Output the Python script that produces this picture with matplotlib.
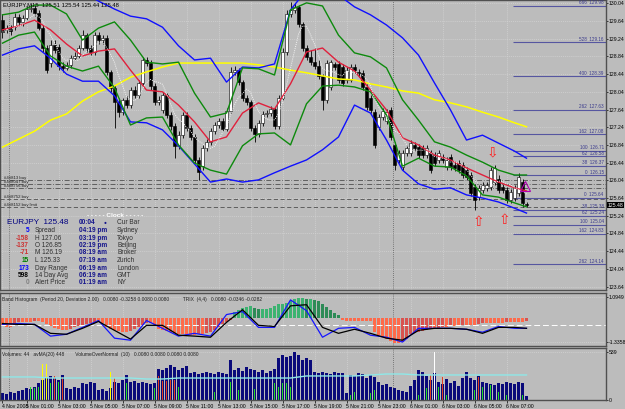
import numpy as np
import pandas as pd
import matplotlib
matplotlib.use('Agg')
import matplotlib.pyplot as plt
import matplotlib.transforms as mtransforms

plt.rcParams['font.family'] = ['Liberation Sans', 'DejaVu Sans']

# EURJPY M15 candles (132 bars)
opens = [129.66, 129.44, 129.48, 129.51, 129.73, 129.62, 129.71, 129.91, 129.93, 129.82,
         129.48, 129.03, 128.69, 129.10, 129.05, 128.62, 128.58, 128.65, 128.80, 128.85,
         129.03, 129.32, 129.03, 128.94, 129.32, 129.21, 129.26, 128.49, 128.13, 127.81,
         127.58, 127.86, 127.74, 128.08, 127.97, 128.24, 128.76, 128.69, 128.17, 127.81,
         127.63, 127.97, 127.52, 127.27, 126.82, 127.06, 127.52, 127.22, 127.02, 126.50,
         126.36, 126.77, 126.91, 127.15, 127.29, 127.38, 127.20, 127.61, 128.49, 128.53,
         128.26, 127.90, 127.81, 127.22, 127.09, 127.34, 127.54, 127.56, 127.65, 127.27,
         127.90, 128.94, 129.80, 129.89, 129.96, 129.57, 129.03, 128.83, 128.71, 128.62,
         128.40, 127.86, 128.15, 128.67, 128.67, 128.60, 128.31, 128.31, 128.60, 128.49,
         128.47, 128.15, 127.90, 127.58, 127.25, 127.47, 127.38, 127.63, 126.84, 126.50,
         126.34, 126.66, 126.66, 126.84, 126.79, 126.77, 126.61, 126.66, 126.61, 126.50,
         126.57, 126.34, 126.57, 126.39, 126.43, 126.39, 126.27, 126.16, 125.89, 125.66,
         125.82, 125.87, 125.89, 126.00, 126.07, 125.89, 125.82, 125.60, 125.64, 125.75,
         126.00, 125.51]
closes = [129.39, 129.48, 129.41, 129.73, 129.62, 129.71, 129.91, 129.93, 129.82, 129.48,
          129.03, 128.53, 129.10, 128.98, 128.62, 128.58, 128.65, 128.80, 128.85, 129.03,
          129.32, 129.03, 128.94, 129.32, 129.21, 129.26, 128.49, 128.13, 127.81, 127.58,
          127.86, 127.74, 128.08, 127.97, 128.24, 128.76, 128.69, 128.17, 127.81, 127.86,
          127.97, 127.52, 127.27, 126.82, 127.06, 127.52, 127.22, 127.02, 126.50, 126.23,
          126.77, 126.91, 127.15, 127.29, 127.38, 127.20, 127.61, 128.49, 128.53, 128.26,
          127.90, 127.81, 127.22, 127.09, 127.34, 127.54, 127.56, 127.65, 127.27, 127.90,
          128.94, 129.80, 129.89, 129.96, 129.57, 129.03, 128.83, 128.71, 128.62, 128.40,
          127.86, 128.69, 128.71, 128.60, 128.31, 128.24, 128.53, 128.60, 128.53, 128.44,
          128.15, 127.70, 127.63, 126.84, 127.47, 127.61, 127.58, 127.02, 126.39, 126.66,
          126.66, 126.77, 126.88, 126.77, 126.61, 126.61, 126.77, 126.27, 126.43, 126.66,
          126.50, 126.50, 126.34, 126.32, 126.27, 126.16, 126.12, 125.75, 125.60, 125.87,
          125.93, 125.93, 126.27, 126.32, 125.82, 125.82, 125.60, 125.78, 125.87, 126.12,
          125.53, 125.48]
highs = [129.80, 129.55, 129.55, 129.82, 129.80, 129.78, 129.98, 130.02, 130.00, 129.89,
         129.55, 129.10, 129.21, 129.21, 129.12, 128.71, 128.71, 128.87, 128.94, 129.10,
         129.44, 129.37, 129.10, 129.39, 129.39, 129.32, 129.32, 128.53, 128.19, 127.90,
         127.90, 127.95, 128.15, 128.17, 128.31, 128.83, 128.83, 128.76, 128.24, 127.95,
         128.04, 128.01, 127.58, 127.34, 127.15, 127.58, 127.58, 127.29, 127.09, 126.57,
         126.84, 126.97, 127.22, 127.36, 127.45, 127.45, 127.67, 128.60, 128.62, 128.58,
         128.31, 127.97, 127.86, 127.29, 127.40, 127.61, 127.63, 127.72, 127.70, 127.97,
         129.03, 129.89, 130.07, 130.05, 130.00, 129.62, 129.10, 128.98, 129.03, 128.76,
         128.44, 128.76, 128.76, 128.71, 128.74, 128.67, 128.60, 128.67, 128.67, 128.56,
         128.53, 128.22, 127.97, 127.65, 127.54, 127.67, 127.65, 127.70, 126.91, 126.73,
         126.73, 126.84, 126.95, 126.91, 126.86, 126.84, 126.84, 126.73, 126.68, 126.73,
         126.64, 126.57, 126.64, 126.45, 126.50, 126.45, 126.34, 126.23, 125.96, 125.93,
         126.00, 126.00, 126.34, 126.39, 126.16, 125.96, 125.89, 125.84, 125.93, 126.21,
         126.07, 125.54]
lows = [129.26, 129.37, 129.32, 129.44, 129.55, 129.53, 129.66, 129.84, 129.75, 129.44,
        128.94, 128.47, 128.60, 128.92, 128.53, 128.49, 128.53, 128.58, 128.76, 128.80,
        128.98, 128.94, 128.87, 128.87, 129.12, 129.12, 128.42, 128.04, 127.22, 127.47,
        127.52, 127.67, 127.67, 127.90, 127.90, 128.19, 128.62, 128.08, 127.74, 127.74,
        127.56, 127.45, 127.18, 126.54, 126.75, 127.00, 127.15, 126.95, 126.43, 126.05,
        126.27, 126.70, 126.84, 127.09, 127.22, 127.15, 127.15, 127.56, 128.42, 128.19,
        127.83, 127.74, 127.15, 126.91, 127.02, 127.27, 127.47, 127.49, 127.20, 127.20,
        127.86, 128.87, 129.73, 129.82, 129.51, 128.96, 128.76, 128.65, 128.56, 128.33,
        127.63, 127.79, 128.08, 128.53, 128.24, 128.17, 128.24, 128.26, 128.47, 128.37,
        128.08, 127.63, 127.56, 126.77, 127.18, 127.40, 127.31, 126.95, 126.27, 126.43,
        126.27, 126.59, 126.59, 126.70, 126.54, 126.54, 126.54, 126.21, 126.36, 126.43,
        126.43, 126.27, 126.27, 126.25, 126.21, 126.09, 126.05, 125.69, 125.37, 125.60,
        125.75, 125.80, 125.82, 125.93, 125.75, 125.75, 125.53, 125.53, 125.57, 125.69,
        125.44, 125.44]

# indicator lines, read every 4th bar (last at bar 131)
line_bars = list(range(0, 129, 4)) + [131]
bb_up_blue = [np.nan, np.nan, np.nan, np.nan, np.nan, 130.30, 130.09, 129.91, 129.75, 129.69,
              129.50, 129.08, 128.76, 128.80, 128.26, 128.60, 128.58, 128.67, 129.89, 130.34,
              130.45, 130.23, 129.96, 129.78, 129.55, 129.26, 128.87, 128.24, 127.63, 126.95,
              127.06, 126.88, 126.70, 126.54]
bb_dn_blue = [128.87, 129.01, 129.08, 128.80, 128.44, 128.28, 128.28, 127.95, 127.36, 127.34,
              127.18, 126.82, 126.41, 126.00, 126.07, 126.00, 126.05, 126.21, 126.36, 126.50,
              126.73, 127.02, 127.74, 127.56, 126.95, 126.27, 125.96, 125.84, 125.87, 125.71,
              125.64, 125.55, 125.41, 125.30]
bb_up_green = [129.78, 129.84, 130.00, 130.00, 129.80, 129.21, 129.48, 129.62, 129.21, 128.71,
               128.67, 128.71, 128.01, 127.47, 127.56, 128.58, 128.56, 128.42, 129.89, 130.05,
               129.98, 129.32, 128.92, 128.83, 128.58, 127.86, 127.40, 126.91, 126.79, 126.61,
               126.45, 126.27, 126.16, 126.16]
bb_dn_green = [129.14, 129.32, 129.39, 128.85, 128.62, 128.51, 128.62, 128.13, 127.29, 127.45,
               127.47, 126.84, 126.43, 126.27, 126.18, 126.82, 127.09, 127.11, 126.84, 127.77,
               128.17, 128.19, 128.15, 128.04, 127.52, 126.36, 126.54, 126.36, 126.34, 126.14,
               125.71, 125.66, 125.53, 125.44]
ma_red = [129.44, 129.53, 129.66, 129.44, 129.12, 128.85, 128.96, 129.01, 128.53, 128.08,
          128.04, 127.74, 127.36, 126.91, 127.02, 127.56, 127.79, 127.65, 128.22, 128.94,
          129.03, 128.71, 128.51, 128.08, 127.63, 127.00, 126.84, 126.61, 126.50, 126.32,
          126.16, 126.00, 125.87, 125.80]
ma_yellow = [126.79, 126.97, 127.15, 127.40, 127.54, 127.83, 128.04, 128.17, 128.37, 128.49,
             128.60, 128.69, 128.69, 128.69, 128.69, 128.69, 128.65, 128.60, 128.53, 128.47,
             128.40, 128.33, 128.31, 128.22, 128.15, 128.06, 128.01, 127.86, 127.79, 127.70,
             127.58, 127.47, 127.34, 127.25]

# fibo levels on the right
fib_levels = ['666', '528', '400', '262', '162', '100', '62', '38', '0',
              '0', '38', '62', '100', '162', '262']
fib_prices = [129.98, 129.16, 128.39, 127.63, 127.08, 126.71, 126.58, 126.37, 126.15,
              125.64, 125.38, 125.24, 125.04, 124.83, 124.14]
# pending order lines
order_names = ['#4#813 buy', '#4#8047 buy', '#4#8756 buy', '#4#8752 buy', '#4#8152 buy limit']
order_prices = [126.05, 125.96, 125.87, 125.62, 125.44]

arrow_dn_bars, arrow_dn_prices = [122.6], [126.66]
arrow_up_bars, arrow_up_prices = [119.0, 125.6], [125.10, 125.14]

price_ticks = [130.04, 129.64, 129.24, 128.84, 128.44, 128.04, 127.64, 127.24, 126.84,
               126.44, 126.04, 125.64, 125.24, 124.84, 124.44, 124.04, 123.64]
last_price = 125.48

# info / clock box
ip_nums = ['5', '-158', '-137', '-71', '15', '173', '598', '0']
ip_num_colors = ['#0000ff', '#cc3333', '#cc3333', '#cc3333', '#008000', '#0000ff', 'black', '#808080']
ip_labels = ['Spread', 'H 127.06', 'O 126.85', 'M 126.19', 'L 125.33', 'Day Range', '14 Day Avg', 'Alert Price']
clock_times = ['00:04', '04:19 pm', '03:19 pm', '02:19 pm', '08:19 am', '07:19 am', '06:19 am', '06:19 am', '01:19 am']
clock_names = ['Cur Bar', 'Sydney', 'Tokyo', 'Beijing', 'Broker', 'Zurich', 'London', 'GMT', 'NY']

# band histogram (per bar) and TRIX lines
band_hist = [-0.42, -0.53, -0.53, -0.42, -0.26, -0.26, -0.26, -0.26, -0.21, -0.21,
             -0.26, -0.37, -0.48, -0.58, -0.63, -0.69, -0.69, -0.63, -0.53, -0.48,
             -0.42, -0.37, -0.32, -0.26, -0.26, -0.32, -0.53, -0.63, -0.69, -0.74,
             -0.79, -0.79, -0.74, -0.63, -0.53, -0.42, -0.32, -0.32, -0.48, -0.63,
             -0.69, -0.74, -0.79, -0.85, -0.90, -0.90, -0.95, -0.95, -0.95, -0.90,
             -0.90, -0.85, -0.79, -0.69, -0.53, -0.37, -0.26, -0.11, 0.32, 0.42,
             0.53, 0.58, 0.63, 0.53, 0.48, 0.48, 0.48, 0.53, 0.63, 0.74,
             0.74, 0.79, 0.90, 1.00, 1.06, 1.06, 1.00, 1.00, 0.95, 0.90,
             0.74, 0.58, 0.42, 0.26, 0.11, -0.11, -0.16, -0.16, -0.16, -0.16,
             -0.16, -0.16, -0.21, -0.79, -0.95, -1.06, -1.16, -1.27, -1.37, -1.37,
             -1.32, -1.16, -0.90, -0.85, -0.79, -0.74, -0.69, -0.63, -0.63, -0.58,
             -0.53, -0.53, -0.48, -0.48, -0.48, -0.42, -0.42, -0.42, -0.42, -0.37,
             -0.32, -0.32, -0.32, -0.32, -0.32, -0.32, -0.26, -0.26, -0.26, -0.26,
             -0.26, -0.21]
trix_blue = [-0.37, -0.32, -0.37, -1.00, -0.90, -0.53, -0.16, -1.11, -1.22, -0.16,
             -0.58, -1.00, -0.85, -1.00, 0.16, 0.32, -0.53, -0.53, 0.95, 0.37,
             -1.06, -0.58, -0.53, -0.95, -1.06, -1.32, -0.58, -0.58, -0.58, -0.63,
             -0.79, -0.48, -0.58, -0.58]
trix_black = [-0.32, -0.37, -0.37, -0.85, -0.90, -0.58, -0.21, -0.69, -1.16, -0.42,
              -0.42, -0.95, -1.00, -1.06, -0.26, 0.42, -0.42, -0.48, 0.63, 0.69,
              -0.53, -0.85, -0.63, -0.85, -1.11, -1.22, -0.69, -0.58, -0.58, -0.63,
              -0.85, -0.53, -0.53, -0.58]
trix_level = -0.42

# volumes
volumes = [78, 67, 90, 78, 101, 112, 134, 123, 146, 190, 224, 246, 269, 246, 224, 280,
           134, 123, 146, 134, 190, 179, 202, 190, 112, 123, 101, 134, 202, 190, 224, 280,
           202, 213, 190, 202, 190, 179, 190, 347, 336, 358, 392, 370, 336, 358, 381,
           302, 314, 291, 302, 314, 302, 291, 314, 302, 291, 448, 336, 358, 325, 370,
           347, 336, 314, 336, 302, 325, 347, 470, 504, 482, 493, 538, 504, 448, 470,
           448, 314, 302, 314, 302, 291, 314, 302, 302, 78, 280, 269, 302, 291, 246,
           280, 258, 202, 168, 179, 146, 134, 112, 101, 90, 157, 224, 336, 314, 269,
           224, 302, 202, 179, 235, 190, 213, 157, 246, 314, 246, 224, 269, 202, 190,
           179, 168, 190, 179, 202, 190, 179, 202, 190, 44]
vol_ma = [258, 258, 258, 246, 246, 246, 246, 246, 246, 235, 235, 246, 246, 246, 246, 246,
          246, 246, 246, 269, 269, 269, 269, 280, 291, 291, 280, 280, 280, 280, 280, 280,
          280, 280]
over_bars = [7, 8, 9, 10, 11, 12, 13, 14, 15, 27, 28, 31, 38, 39, 40, 41, 42, 43, 44, 53, 57,
             59, 63, 68, 69, 70, 71, 72, 87, 88, 92, 93, 104, 106, 107, 108, 109, 110,
             111, 118, 119, 120, 122, 124, 126, 130]
over_vals = [146, 134, 146, 403, 403, 190, 269, 202, 258, 314, 246, 190, 134, 269, 213, 213,
             224, 224, 146, 90, 202, 112, 123, 190, 146, 190, 190, 146, 56, 90, 78, 112,
             56, 134, 280, 538, 146, 258, 56, 112, 258, 146, 168, 90, 56, 56]
over_cols = ['g', 'g', 'g', 'y', 'y', 'g', 'r', 'g', 'r', 'y', 'r', 'g', 'g', 'r', 'r', 'r',
             'r', 'r', 'g', 'g', 'g', 'g', 'g', 'g', 'g', 'g', 'g', 'g', 'g', 'g', 'g', 'g',
             'g', 'g', 'r', 'w', 'g', 'r', 'g', 'g', 'r', 'g', 'g', 'g', 'g', 'g']

time_bars = [0] + list(range(6, 127, 8))
time_labels = ['4 Nov 2008', '5 Nov 01:00', '5 Nov 03:00', '5 Nov 05:00', '5 Nov 07:00',
               '5 Nov 09:00', '5 Nov 11:00', '5 Nov 13:00', '5 Nov 15:00', '5 Nov 17:00',
               '5 Nov 19:00', '5 Nov 21:00', '5 Nov 23:00', '6 Nov 01:00', '6 Nov 03:00',
               '6 Nov 05:00', '6 Nov 07:00']
day_breaks = [1.5, 97.5]

BG = '#bcbcbc'
GRID = '#d4d4d4'
XLIM = (-0.625, 150.875)
TICK_FS = 3.7

fig = plt.figure(figsize=(6.25, 4.09), dpi=100)
fig.patch.set_facecolor(BG)
ax1 = fig.add_axes([0.0, 1 - 290 / 409, 606 / 625, 290 / 409])
ax2 = fig.add_axes([0.0, 1 - 346 / 409, 606 / 625, 53 / 409])
ax3 = fig.add_axes([0.0, 1 - 400 / 409, 606 / 625, 52 / 409])

for ax in (ax1, ax2, ax3):
    ax.set_facecolor(BG)
    ax.set_xlim(*XLIM)
    ax.set_xticks(time_bars)
    ax.yaxis.tick_right()
    ax.tick_params(axis='y', labelsize=TICK_FS, length=1.5, pad=0.6, colors='black', width=0.5)
    ax.tick_params(axis='x', length=0, labelbottom=False)
    ax.grid(True, color=GRID, linestyle=(0, (1.5, 1.5)), linewidth=0.5)
    ax.set_axisbelow(True)
    for s in ax.spines.values():
        s.set_color('#505050')
        s.set_linewidth(1.0)
    for b in day_breaks:
        ax.axvline(b, color='#606060', linestyle=(0, (1, 1.5)), linewidth=0.6, zorder=1)

# ---------------- main chart ----------------
x = np.arange(len(closes))
o = np.array(opens); c = np.array(closes)
up = c >= o
ax1.vlines(x, lows, highs, color='black', linewidth=0.6, zorder=2)
ax1.bar(x[up], np.maximum(c - o, 0.01)[up], bottom=o[up], width=0.72, color='white',
        edgecolor='black', linewidth=0.4, zorder=2.5)
ax1.bar(x[~up], np.maximum(o - c, 0.01)[~up], bottom=c[~up], width=0.72, color='black',
        edgecolor='black', linewidth=0.4, zorder=2.5)

ax1.plot(line_bars, ma_yellow, color='#ffff00', linewidth=1.1, zorder=3)
ax1.plot(line_bars, bb_up_blue, color='#1010ff', linewidth=1.0, zorder=3)
ax1.plot(line_bars, bb_dn_blue, color='#1010ff', linewidth=1.0, zorder=3)
ax1.plot(line_bars, bb_up_green, color='#0d8a0d', linewidth=1.0, zorder=3)
ax1.plot(line_bars, bb_dn_green, color='#0d8a0d', linewidth=1.0, zorder=3)
ax1.plot(line_bars, ma_red, color='#e0203c', linewidth=1.0, zorder=3)
short_ma = pd.Series(closes).rolling(6, min_periods=1).mean()
ax1.plot(x, short_ma, color='#f4f4f4', linestyle=(0, (1, 1.2)), linewidth=0.7, zorder=3)

# order lines
for i, (nm, p) in enumerate(zip(order_names, order_prices)):
    ls = (0, (6, 2, 1, 2)) if i < 3 else (0, (5, 3))
    ax1.axhline(p, color='#505050', linestyle=ls, linewidth=0.6, zorder=1.5)
    ax1.text(0.3, p + 0.005, nm, fontsize=3.1, color='#202020', va='bottom', ha='left')

# fibo lines
ax1.hlines(fib_prices, 127.5, XLIM[1], color='#5656a0', linewidth=0.8, zorder=1.6)
for lv, p in zip(fib_levels, fib_prices):
    ax1.text(150.3, p + 0.012, f'{lv}  {p:.2f}', fontsize=3.3, color='#3a3a8c',
             ha='right', va='bottom')

for b, p in zip(arrow_dn_bars, arrow_dn_prices):
    ax1.text(b, p, '\u21e9', color='#ff2020', fontsize=10, ha='center', va='center',
             family=['DejaVu Sans'], zorder=4)
for b, p in zip(arrow_up_bars, arrow_up_prices):
    ax1.text(b, p, '\u21e7', color='#ff2020', fontsize=10, ha='center', va='center',
             family=['DejaVu Sans'], zorder=4)
ax1.plot([130.6], [125.92], marker='^', markersize=7, markerfacecolor='none',
         markeredgecolor='#b000b0', markeredgewidth=0.8, zorder=4)

ax1.set_ylim(123.561, 130.115)
ax1.set_yticks(price_ticks)
ax1.set_yticklabels([f'{v:.2f}' for v in price_ticks])
trans1 = mtransforms.blended_transform_factory(ax1.transAxes, ax1.transData)
ax1.text(1.002, last_price, f'{last_price:.2f}', transform=trans1, fontsize=TICK_FS, color='white',
         ha='left', va='center', bbox=dict(facecolor='black', edgecolor='none', pad=0.4),
         clip_on=False, zorder=6)
ax1.text(0.005, 0.993, 'EURJPY,M15  125.51 125.54 125.44 125.48', transform=ax1.transAxes,
         fontsize=4.2, va='top', ha='left', color='black')

# info / clock panel
def fy(ypx):
    return 1 - ypx / 290

ax1.text(115 / 606, fy(215), '- - - - - Clock - - - - -', transform=ax1.transAxes,
         fontsize=4.6, color='white', fontweight='bold', ha='center', va='center')
ax1.text(7 / 606, fy(222), 'EURJPY  125.48', transform=ax1.transAxes, fontsize=5.9,
         color='#000080', ha='left', va='center')
row_y = [230.5, 238, 245.5, 253, 260.5, 268, 275.5, 283]
for ry, n, nc, lb in zip(row_y, ip_nums, ip_num_colors, ip_labels):
    ax1.text(29 / 606, fy(ry), n, transform=ax1.transAxes, fontsize=4.7, color=nc,
             ha='right', va='center', fontweight='bold')
    ax1.text(35 / 606, fy(ry), lb, transform=ax1.transAxes, fontsize=4.7, color='#303030',
             ha='left', va='center')
for ry, t, nm in zip([222] + row_y, clock_times, clock_names):
    ax1.text(79 / 606, fy(ry), t, transform=ax1.transAxes, fontsize=4.7, color='#14148c',
             ha='left', va='center', fontweight='bold')
    ax1.text(117 / 606, fy(ry), nm, transform=ax1.transAxes, fontsize=4.7, color='#303030',
             ha='left', va='center')
ax1.text(105 / 606, fy(222), '\u25cf', transform=ax1.transAxes, fontsize=3.5, color='#14148c',
         ha='center', va='center')

# ---------------- band histogram + TRIX ----------------
hist = np.array(band_hist)
prev = np.concatenate([[0.0], hist[:-1]])
grow = np.abs(hist) >= np.abs(prev)
cols = np.where(hist >= 0, np.where(grow, '#3cb371', '#2e8b57'),
                np.where(grow, '#ff6a4a', '#d9534f'))
ax2.bar(x, hist, width=0.8, color=cols, linewidth=0, zorder=2)
ax2.axhline(trix_level, color='white', linestyle=(0, (6, 3)), linewidth=0.7, zorder=2.2)
ax2.plot(line_bars, trix_blue, color='#1515ff', linewidth=0.9, zorder=3)
ax2.plot(line_bars, trix_black, color='black', linewidth=0.9, zorder=3)
ax2.set_ylim(-1.532, 1.321)
ax2.set_yticks([1.0949, -1.3358])
ax2.set_yticklabels(['1.0949', '-1.3358'])
ax2.text(0.004, 0.93, 'Band Histogram  (Period 20, Deviation 2.00)   0.0080 -0.3258 0.0080 0.0080'
         '          TRIX  (4,4)   0.0080 -0.0346 -0.0282',
         transform=ax2.transAxes, fontsize=3.5, va='top', ha='left', color='#202020')

# ---------------- volumes ----------------
ax3.bar(x, volumes, width=0.78, color='#0a0a7a', linewidth=0, zorder=2)
col_map = {'g': '#22dd22', 'y': '#ffff00', 'r': '#e04020', 'w': '#ffffff'}
ax3.bar(over_bars, over_vals, width=0.45, color=[col_map[k] for k in over_cols],
        linewidth=0, zorder=2.5)
ax3.plot(line_bars, vol_ma, color='#8fe8e8', linewidth=1.0, zorder=3)
ax3.set_ylim(0, 582)
ax3.set_yticks([539, 0])
ax3.set_yticklabels(['539', '0'])
ax3.text(0.004, 0.93, 'Volumes: 44   avMA(20) 448        VolumeOverNormal  (10)   0.0080 0.0080 0.0080 0.0080',
         transform=ax3.transAxes, fontsize=3.5, va='top', ha='left', color='#202020')
ax3.tick_params(axis='x', length=2, labelbottom=True, labelsize=3.7, pad=0.8, width=0.5)
ax3.set_xticklabels(time_labels)
for lbl in ax3.get_xticklabels():
    lbl.set_horizontalalignment('left')

fig.savefig('out.png', dpi=100, facecolor=BG)
